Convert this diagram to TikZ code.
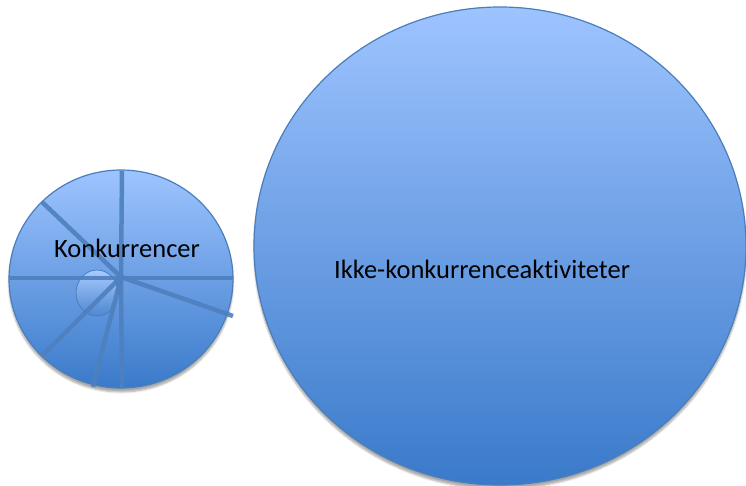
\documentclass[tikz,border=0pt]{standalone}
\usepackage{fontspec}
\setmainfont{Carlito}[Ligatures=NoCommon]
\usetikzlibrary{shapes.geometric,shadows.blur}
\definecolor{topc}{RGB}{158,196,255}
\definecolor{botc}{RGB}{58,122,202}
\definecolor{edgec}{RGB}{74,126,187}
\definecolor{spoke}{RGB}{78,128,190}
\tikzset{
  disc/.style={ellipse, draw=edgec, line width=1.2pt, top color=topc, bottom color=botc, inner sep=0pt,
    blur shadow={shadow xshift=0pt, shadow yshift=-4pt, shadow blur steps=6, shadow opacity=35}},
  spokeline/.style={draw=spoke, line width=4.5pt, opacity=0.9},
  lbl/.style={font=\fontsize{26.5}{31}\selectfont, text=black, inner sep=0pt}
}
\begin{document}
\begin{tikzpicture}[x=1pt,y=-1pt]
\useasboundingbox (0,0) rectangle (746,486);
% big circle
\node[disc, minimum width=492pt, minimum height=478pt] (big) at (500,246) {};
\node[lbl] (bigtxt) at (482,269) {Ikke-konkurrenceaktiviteter};
% small circle
\node[disc, minimum width=224pt, minimum height=218pt] (small) at (121,279) {};
\node[ellipse, draw=edgec, line width=0.8pt, top color=topc!90!white, bottom color=botc!90, inner sep=0pt,
  minimum width=42pt, minimum height=46pt] (inner) at (97,293) {};
\coordinate (c) at (121,277);
\coordinate (ptop) at (122,171);
\coordinate (pbot) at (122,388);
\coordinate (pl) at (9,278);
\coordinate (pr) at (233,278);
\coordinate (pul) at (42,202);
\coordinate (pdr) at (233,316);
\coordinate (pdl) at (43,355);
\coordinate (pbl) at (93,387);
\draw[spokeline] (pl) -- (pr);
\draw[spokeline] (ptop) -- (c);
\draw[spokeline] (c) -- (pbot);
\draw[spokeline] (pul) -- (c);
\draw[spokeline] (c) -- (pdr);
\draw[spokeline] (c) -- (pdl);
\draw[spokeline] (c) -- (pbl);
\node[lbl] (smalltxt) at (127,248) {Konkurrencer};
\end{tikzpicture}
\end{document}
